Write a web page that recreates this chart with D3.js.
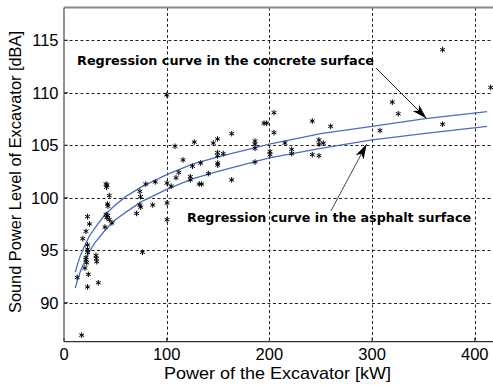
<!DOCTYPE html>
<html lang="en">
<head>
  <meta charset="utf-8">
  <title>Sound power level vs excavator power</title>
  <script src="https://cdn.jsdelivr.net/npm/d3@7/dist/d3.min.js"></script>
  <style>
    * { margin: 0; padding: 0; }
    body { background: #fff; overflow: hidden; }
    svg { display: block; font-family: "Liberation Sans", Arial, sans-serif; }
  </style>
</head>
<body>
  <svg id="chart" width="493" height="386"></svg>

  <script>
    // tick values
    const xTicks = [0, 100, 200, 300, 400]
    const yTicks = [90, 95, 100, 105, 110, 115]

    // measured points: excavator power [kW] and sound power level [dBA]
    const powerKW = [
      17.2, 12.9, 22.9, 33.4, 23.7, 20.4, 31.1, 31.5, 31.9, 21.4,
      21.4, 22.1, 22.9, 22.9, 22.9, 18.3, 21.4, 24.8, 22.9, 39.9,
      40.9, 41.9, 41.4, 44.1, 42.4, 42.8, 40.9, 42.6, 41.6, 44.1,
      46.7, 70.7, 73.9, 74.7, 86.4, 74.5, 73.9, 79.6, 88.9, 76.4,
      100.3, 100.3, 100.3, 100.0, 104.3, 108.1, 126.9, 145.4, 149.5, 163.3,
      194.7, 197.4, 204.5, 204.5, 186.0, 186.0, 186.0, 186.0, 149.5, 149.5,
      155.1, 149.7, 149.7, 115.9, 125.1, 133.1, 111.8, 109.1, 123.0, 123.0,
      140.6, 131.7, 134.1, 163.3, 200.6, 200.6, 215.2, 221.7, 221.7, 241.8,
      248.3, 248.3, 252.5, 241.8, 248.3, 259.7, 307.7, 319.7, 325.5, 368.7,
      368.7, 415.5
    ]
    const soundDBA = [
      86.9, 92.4, 91.5, 91.9, 92.7, 93.3, 94.5, 94.2, 93.9, 94.3,
      94.1, 93.8, 95.1, 94.8, 95.5, 96.1, 96.8, 97.5, 98.2, 97.2,
      101.3, 101.2, 101.0, 100.2, 99.4, 99.2, 98.4, 98.3, 98.1, 97.9,
      97.6, 98.5, 99.3, 99.1, 99.3, 100.1, 100.6, 101.3, 101.5, 94.8,
      101.4, 99.5, 97.9, 109.8, 101.1, 104.9, 105.3, 105.2, 105.6, 106.1,
      107.1, 107.1, 108.1, 106.2, 105.4, 105.1, 104.7, 103.4, 104.3, 104.0,
      104.2, 103.3, 103.1, 103.6, 103.0, 103.3, 102.4, 101.9, 102.0, 101.7,
      102.3, 101.3, 101.3, 101.7, 104.4, 104.1, 105.2, 104.6, 104.2, 107.3,
      105.5, 105.1, 105.2, 104.1, 104.0, 106.8, 106.4, 109.1, 108.0, 107.0,
      114.1, 110.5
    ]

    // regression curves
    const curveKW = [11, 13, 16, 20, 25, 30, 40, 50, 60, 75, 100, 125, 150, 200, 250, 300, 350, 412]
    const concreteDBA = [92.9, 93.6, 94.5, 95.4, 96.4, 97.1, 98.4, 99.3, 100.1, 101.0, 102.2, 103.2, 103.9, 105.1, 106.1, 106.8, 107.5, 108.2]
    const asphaltDBA = [91.4, 92.1, 93.0, 93.9, 94.9, 95.7, 96.9, 97.9, 98.6, 99.6, 100.8, 101.8, 102.5, 103.8, 104.7, 105.5, 106.1, 106.8]

    const svg = d3.select('#chart')

    const x = d3.scaleLinear().domain([0, 420]).range([64, 495.3])
    const y = d3.scaleLinear().domain([86.28, 118.12]).range([341.7, 7.5])

    const plotL = x.range()[0], plotR = x.range()[1]
    const plotT = y.range()[1], plotB = y.range()[0]

    // grid
    const grid = svg.append('g')
      .attr('stroke', '#222')
      .attr('stroke-width', 1)
      .attr('stroke-dasharray', '3,2.5')
    grid.selectAll('line.gx')
      .data(xTicks.filter(d => d > 0))
      .join('line')
      .attr('class', 'gx')
      .attr('x1', d => Math.round(x(d)) + 0.5).attr('x2', d => Math.round(x(d)) + 0.5)
      .attr('y1', plotT).attr('y2', plotB)
    grid.selectAll('line.gy')
      .data(yTicks)
      .join('line')
      .attr('class', 'gy')
      .attr('y1', d => Math.round(y(d)) + 0.5).attr('y2', d => Math.round(y(d)) + 0.5)
      .attr('x1', plotL).attr('x2', plotR)

    // axes box
    svg.append('line')
      .attr('x1', plotL).attr('x2', plotR).attr('y1', plotT).attr('y2', plotT)
      .attr('stroke', '#8a8a8a').attr('stroke-width', 2)
    svg.append('line')
      .attr('x1', plotL).attr('x2', plotR).attr('y1', plotB).attr('y2', plotB)
      .attr('stroke', '#333').attr('stroke-width', 1.3)
    svg.append('line')
      .attr('x1', plotL).attr('x2', plotL).attr('y1', plotT).attr('y2', plotB)
      .attr('stroke', '#555').attr('stroke-width', 1.3)

    // ticks pointing inward
    svg.append('g').selectAll('line')
      .data(xTicks)
      .join('line')
      .attr('x1', d => x(d)).attr('x2', d => x(d))
      .attr('y1', plotB).attr('y2', plotB - 4)
      .attr('stroke', '#333')
    svg.append('g').selectAll('line')
      .data(yTicks)
      .join('line')
      .attr('x1', plotL).attr('x2', plotL + 4)
      .attr('y1', d => y(d)).attr('y2', d => y(d))
      .attr('stroke', '#333')

    // tick labels
    svg.append('g').selectAll('text')
      .data(xTicks)
      .join('text')
      .attr('x', d => x(d))
      .attr('y', 360)
      .attr('text-anchor', 'middle')
      .attr('font-size', 16.5)
      .attr('fill', '#000')
      .text(d => d)
    svg.append('g').selectAll('text')
      .data(yTicks)
      .join('text')
      .attr('x', 58.5)
      .attr('y', d => y(d))
      .attr('dy', '0.36em')
      .attr('text-anchor', 'end')
      .attr('font-size', 16.5)
      .attr('fill', '#000')
      .text(d => d)

    // axis titles
    svg.append('text')
      .attr('x', 164).attr('y', 379)
      .attr('font-size', 16.5)
      .attr('textLength', 227)
      .attr('lengthAdjust', 'spacingAndGlyphs')
      .attr('fill', '#000')
      .text('Power of the Excavator [kW]')
    svg.append('text')
      .attr('transform', 'translate(21,313) rotate(-90)')
      .attr('font-size', 16.5)
      .attr('textLength', 282)
      .attr('lengthAdjust', 'spacingAndGlyphs')
      .attr('fill', '#000')
      .text('Sound Power Level of Excavator [dBA]')

    // regression curves
    const line = d3.line()
      .x(d => x(d[0]))
      .y(d => y(d[1]))
    const curves = [concreteDBA, asphaltDBA]
    svg.append('g').selectAll('path')
      .data(curves.map(c => curveKW.map((k, i) => [k, c[i]])))
      .join('path')
      .attr('d', line)
      .attr('fill', 'none')
      .attr('stroke', '#4c6cc4')
      .attr('stroke-width', 1.3)

    // asterisk markers
    const r = 2.8
    const star = 'M0,' + -r + 'V' + r +
      'M' + -r * 0.87 + ',' + -r * 0.5 + 'L' + r * 0.87 + ',' + r * 0.5 +
      'M' + -r * 0.87 + ',' + r * 0.5 + 'L' + r * 0.87 + ',' + -r * 0.5
    svg.append('g').selectAll('path')
      .data(powerKW.map((p, i) => [p, soundDBA[i]]))
      .join('path')
      .attr('transform', d => 'translate(' + x(d[0]) + ',' + y(d[1]) + ')')
      .attr('d', star)
      .attr('stroke', '#000')
      .attr('stroke-width', 1)
      .attr('fill', 'none')

    // annotations
    const defs = svg.append('defs')
    defs.append('marker')
      .attr('id', 'head')
      .attr('viewBox', '0 -5 15 10')
      .attr('refX', 15).attr('refY', 0)
      .attr('markerUnits', 'userSpaceOnUse')
      .attr('markerWidth', 15).attr('markerHeight', 10)
      .attr('orient', 'auto')
      .append('path').attr('d', 'M0,-4.5L15,0L0,4.5L4,0Z').attr('fill', '#000')

    svg.append('line')
      .attr('x1', x(303.8)).attr('y1', y(112.35))
      .attr('x2', x(353)).attr('y2', y(107.55))
      .attr('stroke', '#222').attr('stroke-width', 1)
      .attr('marker-end', 'url(#head)')
    svg.append('line')
      .attr('x1', x(260)).attr('y1', y(98.75))
      .attr('x2', x(294.7)).attr('y2', y(105.1))
      .attr('stroke', '#444').attr('stroke-width', 1)
      .attr('marker-end', 'url(#head)')

    svg.append('text')
      .attr('x', 77).attr('y', 64.5)
      .attr('font-family', '"DejaVu Sans", Verdana, sans-serif')
      .attr('font-weight', 'bold')
      .attr('font-size', 11.5)
      .attr('textLength', 297)
      .attr('lengthAdjust', 'spacingAndGlyphs')
      .attr('fill', '#000')
      .text('Regression curve in the concrete surface')
    svg.append('text')
      .attr('x', 187).attr('y', 221.5)
      .attr('font-family', '"DejaVu Sans", Verdana, sans-serif')
      .attr('font-weight', 'bold')
      .attr('font-size', 11.5)
      .attr('textLength', 284)
      .attr('lengthAdjust', 'spacingAndGlyphs')
      .attr('fill', '#000')
      .text('Regression curve in the asphalt surface')
  </script>
</body>
</html>
